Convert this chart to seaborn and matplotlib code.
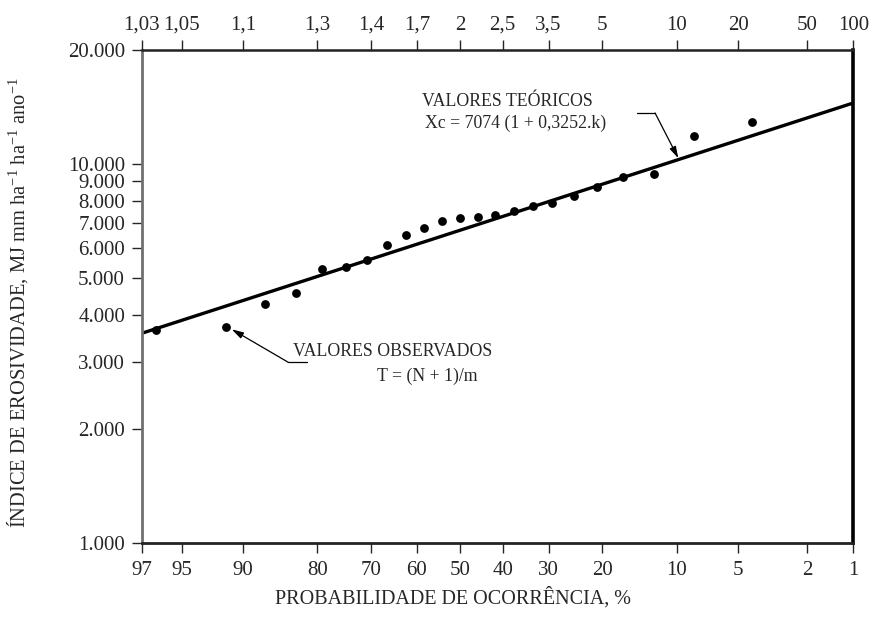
from statistics import NormalDist

import numpy as np
import matplotlib
matplotlib.use("Agg")
import matplotlib.pyplot as plt
from matplotlib.ticker import FixedLocator, NullLocator
import seaborn as sns

# probabilidade de ocorrencia (%) e indice de erosividade observado
obs_prob = [96.4, 91.7, 87.5, 83.3, 79.2, 75.0, 70.8, 66.7, 62.5, 58.3, 54.2, 50.0,
            45.8, 41.7, 37.5, 33.3, 29.2, 25.0, 20.8, 16.7, 12.5, 8.3, 4.2]
obs_val = [3650, 3710, 4270, 4570, 5290, 5360, 5580, 6130, 6500, 6770, 7080, 7210,
           7270, 7350, 7510, 7770, 7880, 8240, 8720, 9250, 9420, 11860, 12940]

# reta teorica (extremos)
line_prob = [97, 1]
line_val = [3580, 14500]

prob_ticks = [97, 95, 90, 80, 70, 60, 50, 40, 30, 20, 10, 5, 2, 1]
period_labels = ["1,03", "1,05", "1,1", "1,3", "1,4", "1,7", "2", "2,5", "3,5",
                 "5", "10", "20", "50", "100"]
y_ticks = [1000, 2000, 3000, 4000, 5000, 6000, 7000, 8000, 9000, 10000, 20000]
y_labels = ["1.000", "2.000", "3.000", "4.000", "5.000", "6.000", "7.000",
            "8.000", "9.000", "10.000", "20.000"]

nd = NormalDist()


def _fwd(v):
    if not np.isfinite(v):
        return np.nan
    v = min(max(v, 1e-4), 100 - 1e-4)
    return nd.inv_cdf(1 - v / 100)


def _inv(z):
    if not np.isfinite(z):
        return np.nan
    return 100 * (1 - nd.cdf(z))


fwd = np.vectorize(_fwd, otypes=[float])
inv = np.vectorize(_inv, otypes=[float])

sns.set_style("ticks")
plt.rcParams["font.family"] = ["Liberation Serif", "DejaVu Serif"]
plt.rcParams["mathtext.fontset"] = "custom"
plt.rcParams["mathtext.rm"] = "Liberation Serif"
plt.rcParams["mathtext.it"] = "Liberation Serif:italic"

fig = plt.figure(figsize=(8.77, 6.22), dpi=100)
ax = fig.add_axes([0.1616, 0.1265, 0.8114, 0.7931])

sns.lineplot(x=line_prob, y=line_val, ax=ax, color="black", linewidth=2.4)
sns.scatterplot(x=obs_prob, y=obs_val, ax=ax, color="black", s=40, linewidth=0, zorder=3)

ax.set_xscale("function", functions=(fwd, inv))
ax.set_yscale("log")
ax.set_xlim(1, 97)
ax.set_ylim(1000, 20000)

ax.xaxis.set_major_locator(FixedLocator(prob_ticks))
ax.set_xticklabels([str(p) for p in prob_ticks])
ax.xaxis.set_minor_locator(NullLocator())
ax.yaxis.set_major_locator(FixedLocator(y_ticks))
ax.set_yticklabels(y_labels)
ax.yaxis.set_minor_locator(NullLocator())

ax.tick_params(axis="x", direction="out", length=7, width=1, pad=6, labelsize=15)
ax.tick_params(axis="y", direction="out", length=7, width=1, pad=5, labelsize=15)

ax.spines["left"].set_color("#707070")
ax.spines["left"].set_linewidth(2)
ax.spines["right"].set_color("black")
ax.spines["right"].set_linewidth(2.6)
ax.spines["top"].set_color("#222222")
ax.spines["top"].set_linewidth(1.8)
ax.spines["bottom"].set_color("#222222")
ax.spines["bottom"].set_linewidth(2)

# eixo superior: periodo de retorno
ax2 = ax.twiny()
ax2.set_xscale("function", functions=(fwd, inv))
ax2.set_xlim(1, 97)
ax2.xaxis.set_major_locator(FixedLocator(prob_ticks))
ax2.set_xticklabels(period_labels)
ax2.xaxis.set_minor_locator(NullLocator())
ax2.tick_params(axis="x", direction="out", length=7, width=1, pad=4, labelsize=15)
for s in ax2.spines.values():
    s.set_visible(False)

ax.set_xlabel("PROBABILIDADE DE OCORRÊNCIA, %", fontsize=14.5)
ax.xaxis.set_label_coords(0.4368, -0.088)
ax.set_ylabel(r"ÍNDICE DE EROSIVIDADE, MJ mm ha$^{\mathrm{-1}}$ ha$^{\mathrm{-1}}$ ano$^{\mathrm{-1}}$",
              fontsize=14.8)
ax.yaxis.set_label_coords(-0.157, 0.488)

# anotacoes
ax.text(0.3935, 0.8952, "VALORES TEÓRICOS", transform=ax.transAxes,
        fontsize=12.8, ha="left", va="center")
ax.text(0.3981, 0.852, "Xc = 7074 (1 + 0,3252.k)", transform=ax.transAxes,
        fontsize=12.8, ha="left", va="center")
ax.plot([0.6956, 0.7214], [0.8723, 0.8723], transform=ax.transAxes,
        color="black", linewidth=0.9)
ax.annotate("", xy=(0.7541, 0.7805), xycoords="axes fraction",
            xytext=(0.7214, 0.8723), textcoords="axes fraction",
            arrowprops=dict(arrowstyle="-|>,head_length=0.7,head_width=0.2",
                            color="black", linewidth=0.9, shrinkA=0, shrinkB=0))

ax.text(0.2126, 0.3884, "VALORES OBSERVADOS", transform=ax.transAxes,
        fontsize=12.8, ha="left", va="center")
ax.text(0.3302, 0.3377, "T = (N + 1)/m", transform=ax.transAxes,
        fontsize=12.8, ha="left", va="center")
ax.plot([0.2060, 0.2319], [0.3669, 0.3669], transform=ax.transAxes,
        color="black", linewidth=0.9)
ax.annotate("", xy=(0.1265, 0.4338), xycoords="axes fraction",
            xytext=(0.2060, 0.3669), textcoords="axes fraction",
            arrowprops=dict(arrowstyle="-|>,head_length=0.7,head_width=0.2",
                            color="black", linewidth=0.9, shrinkA=0, shrinkB=0))

fig.savefig("out.png", dpi=100)
plt.close(fig)
